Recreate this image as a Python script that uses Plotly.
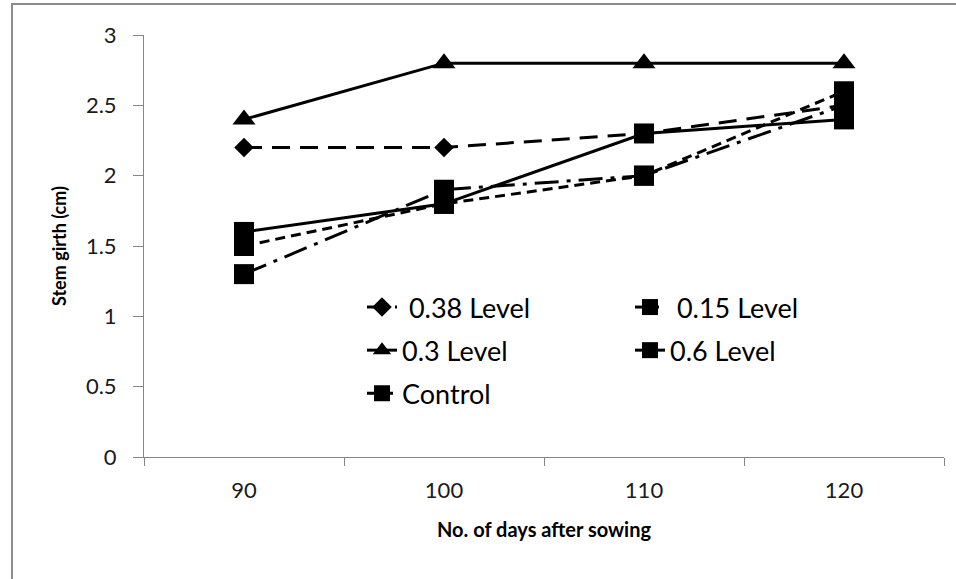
import plotly.graph_objects as go

days = ["90", "100", "110", "120"]
lvl_038 = [2.2, 2.2, 2.3, 2.5]
lvl_015 = [1.3, 1.9, 2.0, 2.5]
lvl_03 = [2.4, 2.8, 2.8, 2.8]
lvl_06 = [1.6, 1.8, 2.3, 2.4]
control = [1.5, 1.8, 2.0, 2.6]

W, H = 956, 579
L, R, T, B = 144, 12, 35, 122
pw, ph = W - L - R, H - T - B

FONT = "Lato, 'Open Sans', sans-serif"

fig = go.Figure()
common = dict(mode="lines+markers", x=days)
fig.add_trace(go.Scatter(y=lvl_038, name=" 0.38 Level", legend="legend", legendgroup="a",
                         line=dict(color="black", width=3, dash="18px,10px"),
                         marker=dict(symbol="diamond", size=15, color="black"), **common))
fig.add_trace(go.Scatter(y=lvl_03, name="0.3 Level", legend="legend", legendgroup="b",
                         line=dict(color="black", width=3),
                         marker=dict(symbol="triangle-up", size=20, color="black"), **common))
fig.add_trace(go.Scatter(y=control, name="Control", legend="legend", legendgroup="c",
                         line=dict(color="black", width=3, dash="10px,6px"),
                         marker=dict(symbol="square", size=20, color="black"), **common))
fig.add_trace(go.Scatter(y=lvl_015, name=" 0.15 Level", legend="legend2", legendgroup="d",
                         line=dict(color="black", width=3, dash="24px,8px,4px,8px"),
                         marker=dict(symbol="square", size=20, color="black"), **common))
fig.add_trace(go.Scatter(y=lvl_06, name="0.6 Level", legend="legend2", legendgroup="e",
                         line=dict(color="black", width=3),
                         marker=dict(symbol="square", size=20, color="black"), **common))

def px_x(x):
    return (x - L) / pw

def px_y(y):
    return (H - B - y) / ph

legend_font = dict(family=FONT, size=27, color="black")
fig.update_layout(
    width=W, height=H,
    margin=dict(l=L, r=R, t=T, b=B),
    paper_bgcolor="white", plot_bgcolor="white",
    showlegend=True,
    legend=dict(x=px_x(362), y=px_y(283), xanchor="left", yanchor="top",
                bgcolor="rgba(0,0,0,0)", font=legend_font, tracegroupgap=5),
    legend2=dict(x=px_x(630), y=px_y(283), xanchor="left", yanchor="top",
                 bgcolor="rgba(0,0,0,0)", font=legend_font, tracegroupgap=5),
    xaxis=dict(type="category", range=[-0.5, 3.5], tickson="boundaries",
               ticks="outside", ticklen=8, tickcolor="#868686",
               showline=True, linecolor="#868686", linewidth=1,
               showgrid=False, zeroline=False, ticklabelstandoff=14,
               tickfont=dict(family=FONT, size=22, color="#1a1a1a"),
               title=dict(text="<b>No. of days after sowing</b>", standoff=20,
                          font=dict(family=FONT, size=20, color="black"))),
    yaxis=dict(range=[0, 3], dtick=0.5,
               ticks="outside", ticklen=10, tickcolor="#868686",
               showline=True, linecolor="#868686", linewidth=1,
               showgrid=False, zeroline=False, ticklabelstandoff=12,
               tickfont=dict(family=FONT, size=22, color="#1a1a1a"),
               title=dict(text="<b>Stem girth (cm)</b>", standoff=14,
                          font=dict(family=FONT, size=18, color="black"))),
    shapes=[dict(type="rect", xref="paper", yref="paper",
                 x0=px_x(12), x1=px_x(980), y0=px_y(600), y1=px_y(4),
                 line=dict(color="#8c8c8c", width=2), layer="below")],
)

fig.write_html("out.html")
